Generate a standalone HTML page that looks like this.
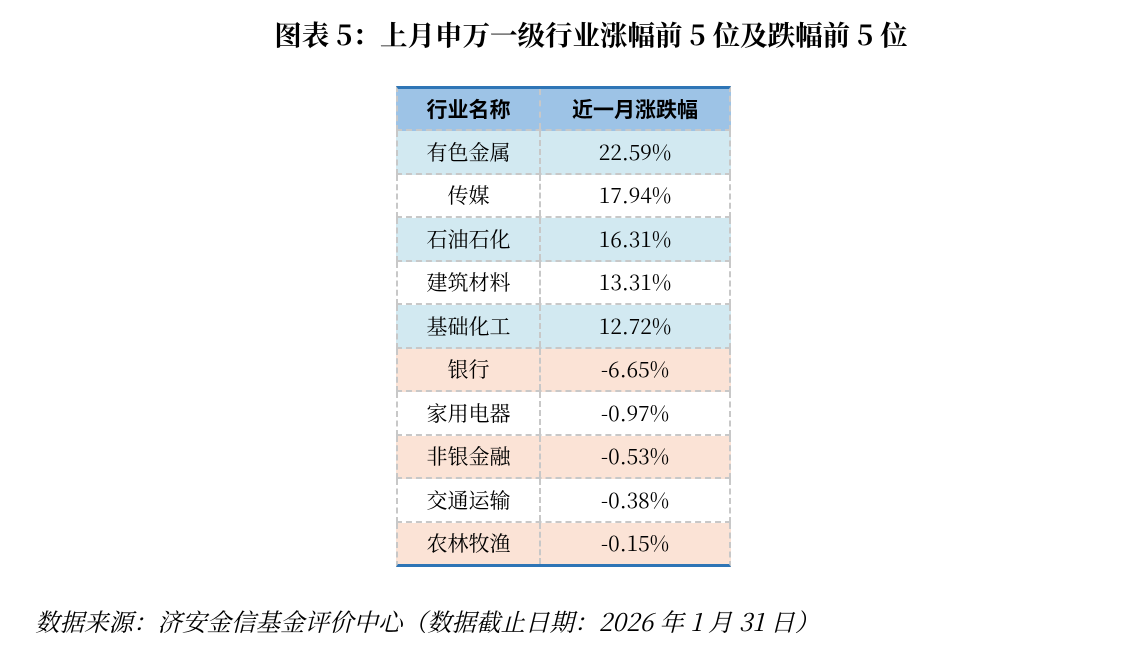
<!DOCTYPE html>
<html><head><meta charset="utf-8"><style>
body{margin:0;width:1130px;height:666px;background:#fff;position:relative;overflow:hidden;font-family:"Noto Serif CJK SC",serif;color:#000}
.title{position:absolute;left:0;width:1182px;top:14px;text-align:center;font-size:27.5px;font-weight:bold;font-family:"Noto Serif CJK SC",serif;line-height:38px}
.r{position:absolute;left:396px;width:335px;height:43.5px;box-sizing:border-box;border-bottom:2px dashed #c8c8c8;border-left:2px dashed #c8c8c8;border-right:2px dashed #c8c8c8}
.r div{position:absolute;top:0;height:100%;display:flex;align-items:center;justify-content:center;font-size:21px}
.r .a{left:0;width:143px;border-right:2px dashed #c8c8c8;box-sizing:border-box}
.r .b{left:143px;right:0}
.h{background:#9dc3e6;border-top:3px solid #2e75b6;font-weight:bold}
.h div{font-family:"Noto Sans CJK SC",sans-serif;font-weight:bold}
.bl{background:#d2e9f1}
.p{background:#fbe3d6}
.last{border-bottom:3px solid #2e75b6}
.foot{position:absolute;left:35px;top:603px;font-size:24.5px;font-style:italic;font-family:"Noto Serif CJK SC",serif;line-height:38px;white-space:nowrap}
</style></head><body>
<div class="title">图表 5：上月申万一级行业涨幅前 5 位及跌幅前 5 位</div>
<div class="r h" style="top:86px;height:45px"><div class="a">行业名称</div><div class="b">近一月涨跌幅</div></div>
<div class="r bl" style="top:131px"><div class="a">有色金属</div><div class="b">22.59%</div></div>
<div class="r" style="top:174.5px"><div class="a">传媒</div><div class="b">17.94%</div></div>
<div class="r bl" style="top:218px"><div class="a">石油石化</div><div class="b">16.31%</div></div>
<div class="r" style="top:261.5px"><div class="a">建筑材料</div><div class="b">13.31%</div></div>
<div class="r bl" style="top:305px"><div class="a">基础化工</div><div class="b">12.72%</div></div>
<div class="r p" style="top:348.5px"><div class="a">银行</div><div class="b">-6.65%</div></div>
<div class="r" style="top:392px"><div class="a">家用电器</div><div class="b">-0.97%</div></div>
<div class="r p" style="top:435.5px"><div class="a">非银金融</div><div class="b">-0.53%</div></div>
<div class="r" style="top:479px"><div class="a">交通运输</div><div class="b">-0.38%</div></div>
<div class="r p last" style="top:522.5px;height:44.5px"><div class="a">农林牧渔</div><div class="b">-0.15%</div></div>
<div class="foot">数据来源：济安金信基金评价中心（数据截止日期：2026 年 1 月 31 日）</div>
</body></html>
